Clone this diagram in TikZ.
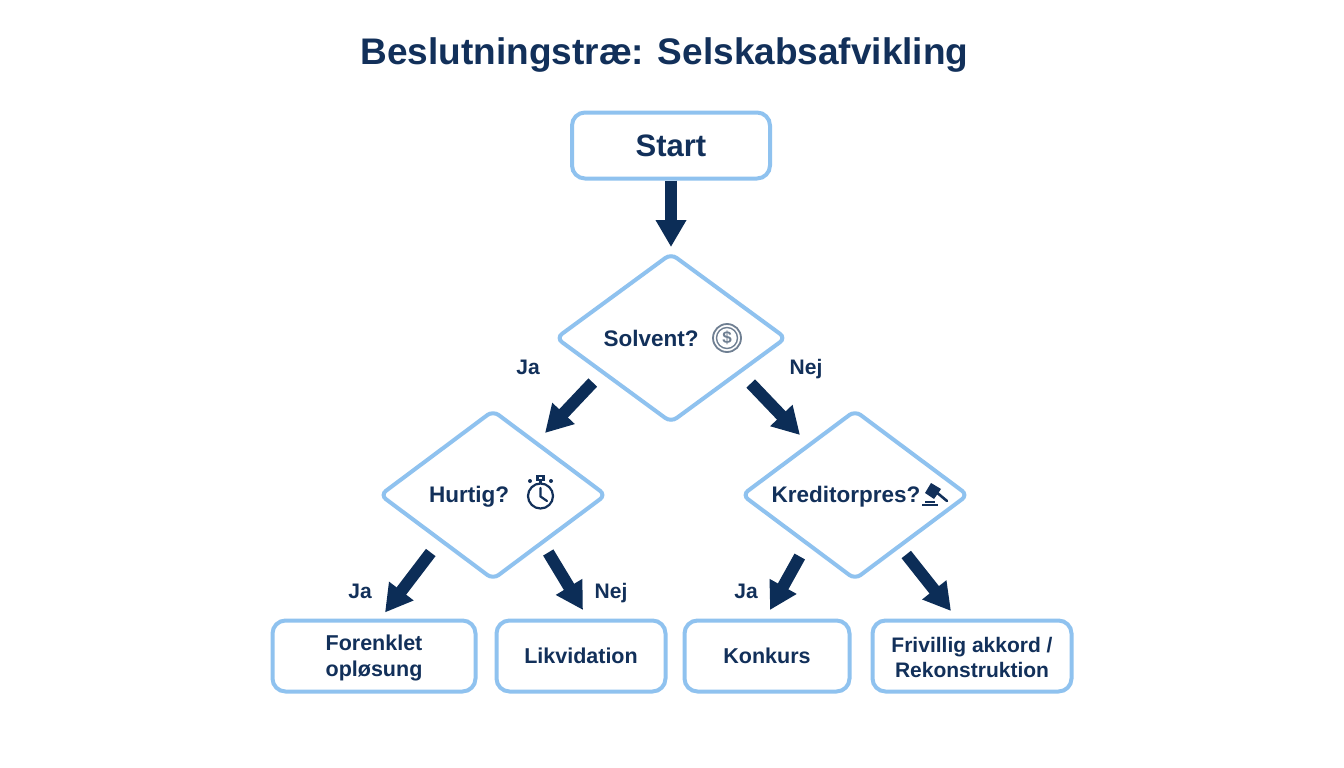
\documentclass[tikz,border=0pt]{standalone}
\usepackage{fontspec}
\setmainfont{Liberation Sans}
\usetikzlibrary{arrows.meta,shapes.geometric}
\definecolor{navy}{HTML}{12305A}
\definecolor{arrownavy}{HTML}{0C2D57}
\definecolor{edgeblue}{HTML}{8FC2EF}
\definecolor{icongray}{HTML}{6F7F92}
\tikzset{
  px/.style={x=1pt,y=-1pt},
  box/.style={draw=edgeblue,line width=4pt,rounded corners=13pt,fill=white,inner sep=0pt,align=center,text=navy,font=\fontsize{21.5}{26}\selectfont\bfseries},
  decision/.style={draw=edgeblue,line width=4pt,rounded corners=7pt,diamond,aspect=1.33,inner sep=0pt,fill=white,minimum width=227pt,minimum height=170pt},
  dtext/.style={text=navy,font=\fontsize{22.5}{26}\selectfont\bfseries,inner sep=0pt},
  edgelabel/.style={text=navy,font=\fontsize{21}{25}\selectfont\bfseries,inner sep=0pt,anchor=base},
  flow/.style={draw=arrownavy,line width=12pt,-{Triangle[length=27pt,width=29pt]}},
  iconline/.style={draw=navy,line width=2.2pt,line cap=round}
}
\begin{document}
\begin{tikzpicture}[px]
\useasboundingbox (0,0) rectangle (1344,768);
\fill[white] (0,0) rectangle (1344,768);
\node[text=navy,inner sep=0pt,font=\fontsize{37}{42}\selectfont\bfseries] (title) at (664.5,55) {Beslutningstræ: Selskabsafvikling};
\node[box,minimum width=198pt,minimum height=66pt,font=\fontsize{31}{36}\selectfont\bfseries] (start) at (671,145.5) {Start};
\node[decision,minimum width=231pt] (solvent) at (671,338) {};
\node[decision] (hurtig) at (493,495) {};
\node[decision] (kredit) at (855,495) {};
\node[dtext] (solventtext) at (651,338) {Solvent?};
\node[dtext] (hurtigtext) at (469,497) {Hurtig?};
\node[dtext] (kredittext) at (846,497) {Kreditorpres?};
\node[box,minimum width=203pt,minimum height=71pt] (forenklet) at (374,656) {\rule{0pt}{19pt}Forenklet\\opløsung};
\node[box,minimum width=169pt,minimum height=71pt] (likvidation) at (581,656) {Likvidation};
\node[box,minimum width=165pt,minimum height=71pt] (konkurs) at (767,656) {Konkurs};
\node[box,minimum width=199pt,minimum height=71pt,font=\fontsize{21}{25}\selectfont\bfseries] (akkord) at (972,656) {\rule{0pt}{18pt}Frivillig akkord /\\Rekonstruktion};
\draw[flow] (start.south) -- ([yshift=4pt]solvent.north);
\draw[flow] ([shift={(-19.5,1)}]solvent.south west) -- ([shift={(52,25)}]hurtig.north);
\draw[flow] ([shift={(21,2)}]solvent.south east) -- ([shift={(-55,27)}]kredit.north);
\draw[flow] ([shift={(-4.5,14)}]hurtig.south west) -- ([shift={(-108,30.5)}]hurtig.south);
\draw[flow] ([shift={(-2.5,14)}]hurtig.south east) -- ([shift={(2,-8.5)}]likvidation.north);
\draw[flow] ([shift={(2.5,18)}]kredit.south west) -- ([shift={(3,-8.5)}]konkurs.north);
\draw[flow] ([shift={(-6.5,16)}]kredit.south east) -- ([shift={(-21,-7.5)}]akkord.north);
\node[edgelabel] (l1) at (528,374.5) {Ja};
\node[edgelabel] (l2) at (806,374.5) {Nej};
\node[edgelabel] (l3) at (360,598.5) {Ja};
\node[edgelabel] (l4) at (611,598.5) {Nej};
\node[edgelabel] (l5) at (746,598.5) {Ja};
% dollar icon
\draw[icongray,line width=1.8pt] (727,338) circle (14pt);
\draw[icongray,line width=1.4pt] (727,338) circle (10.5pt);
\node[text=icongray,inner sep=0pt,font=\fontsize{17}{18}\selectfont\bfseries] (dollar) at (727,338) {\$};
% stopwatch icon
\draw[iconline] (540.5,496) circle (12.5pt);
\draw[iconline] (540.5,488) -- (540.5,496.5) -- (547,501);
\draw[iconline] (537.5,476) rectangle (543.5,480);
\draw[iconline] (540.5,480) -- (540.5,483);
\fill[navy] (530,481) circle (2pt) (551,481) circle (2pt);
% gavel icon
\fill[navy] (931,483) -- (941,489) -- (934,499) -- (925,493) -- cycle;
\draw[navy,line width=2.6pt,line cap=round] (935,491) -- (947,501);
\fill[navy] (925,500.5) rectangle (935,502.5);
\fill[navy] (922,503.5) rectangle (938,505.5);
\end{tikzpicture}
\end{document}
